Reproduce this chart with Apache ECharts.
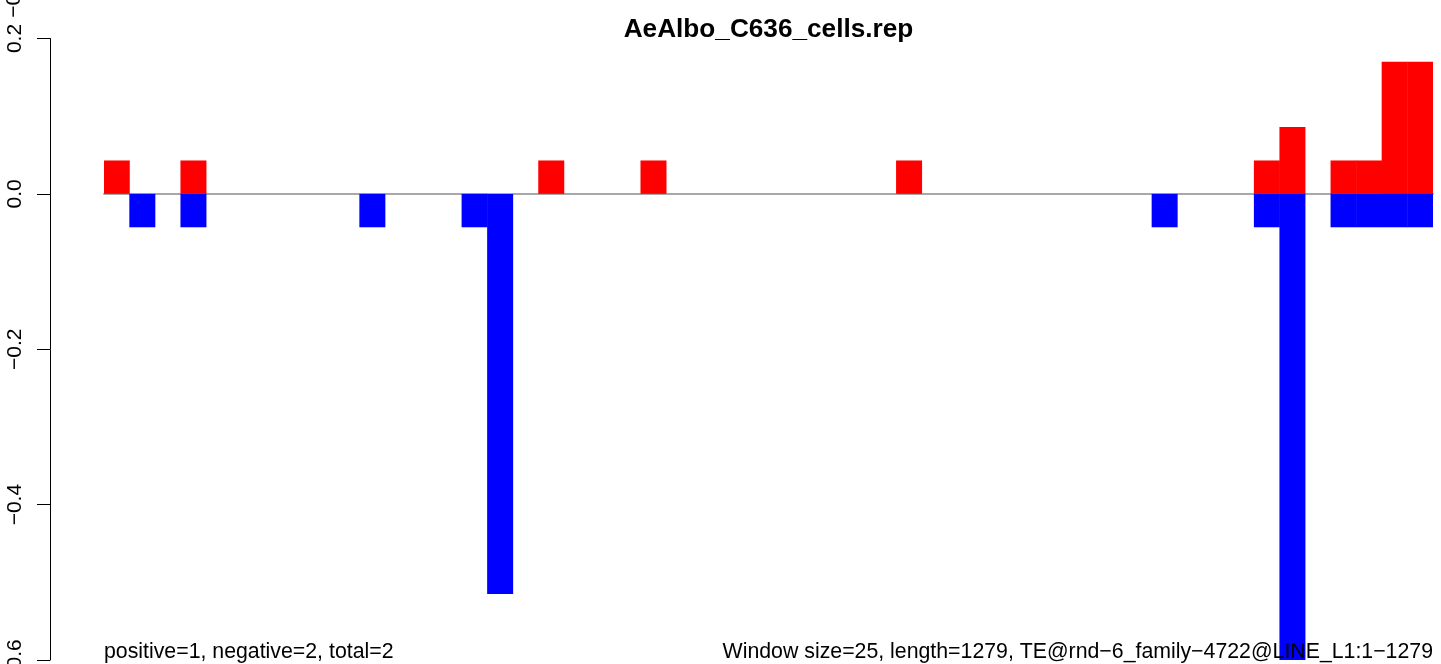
<!DOCTYPE html>
<html>
<head>
<meta charset="utf-8">
<script src="https://cdn.jsdelivr.net/npm/echarts@6/dist/echarts.min.js"></script>
<style>
html,body{margin:0;padding:0;background:#fff;}
#c{width:1441px;height:664px;}
</style>
</head>
<body>
<div id="c"></div>
<script>
// window index (window size 25, length 1279 -> 52 windows)
var windows = [];
for (var i = 1; i <= 52; i++) windows.push(String(i));

var positiveValues = [
  0.043, 0, 0, 0.043, 0, 0, 0, 0, 0, 0,
  0, 0, 0, 0, 0, 0, 0, 0.043, 0, 0,
  0, 0.043, 0, 0, 0, 0, 0, 0, 0, 0,
  0, 0.043, 0, 0, 0, 0, 0, 0, 0, 0,
  0, 0, 0, 0, 0, 0.043, 0.086, 0, 0.043, 0.043,
  0.17, 0.17
];
var negativeValues = [
  0, -0.043, 0, -0.043, 0, 0, 0, 0, 0, 0,
  -0.043, 0, 0, 0, -0.043, -0.515, 0, 0, 0, 0,
  0, 0, 0, 0, 0, 0, 0, 0, 0, 0,
  0, 0, 0, 0, 0, 0, 0, 0, 0, 0,
  0, -0.043, 0, 0, 0, -0.043, -0.6, 0, -0.043, -0.043,
  -0.043, -0.043
];
var yTicks = { min: -0.6, max: 0.2, interval: 0.2 };
var titleText = 'AeAlbo_C636_cells.rep';
var leftNote = 'positive=1, negative=2, total=2';
var rightNote = 'Window size=25, length=1279, TE@rnd\u22126_family\u22124722@LINE_L1:1\u22121279';

var FONT = '"Liberation Sans", Arial, Helvetica, sans-serif';
var chart = echarts.init(document.getElementById('c'), null, {renderer: 'canvas'});
chart.setOption({
  animation: false,
  backgroundColor: '#ffffff',
  grid: { left: 104, right: 8, top: 38.5, bottom: 4, containLabel: false, outerBoundsMode: 'none' },
  xAxis: {
    type: 'category',
    data: windows,
    boundaryGap: true,
    axisLine: { show: true, onZero: true, lineStyle: { color: '#a8a8a8', width: 2 } },
    axisTick: { show: false },
    axisLabel: { show: false },
    splitLine: { show: false }
  },
  yAxis: {
    type: 'value',
    min: yTicks.min,
    max: yTicks.max,
    interval: yTicks.interval,
    offset: 54,
    axisLine: { show: true, lineStyle: { color: '#000', width: 1 } },
    axisTick: { show: true, length: 13, lineStyle: { color: '#000', width: 1 } },
    splitLine: { show: false },
    axisLabel: {
      rotate: 90,
      margin: 24,
      color: '#000',
      fontFamily: FONT,
      fontSize: 21,
      formatter: function (v) {
        var r = Math.round(v * 10) / 10;
        return (r < 0 ? '\u2212' : '') + Math.abs(r).toFixed(1);
      }
    }
  },
  series: [
    {
      type: 'bar', name: 'positive', data: positiveValues,
      barWidth: 26, barGap: '-100%',
      itemStyle: { color: '#ff0000' }
    },
    {
      type: 'bar', name: 'negative', data: negativeValues,
      barWidth: 26, barGap: '-100%',
      itemStyle: { color: '#0000ff' }
    }
  ],
  graphic: [
    { type: 'text', x: 768.5, y: 29.5, z: 100,
      style: { text: titleText, font: 'bold 26.2px ' + FONT, fill: '#000', align: 'center', verticalAlign: 'middle' } },
    { type: 'text', x: 104, y: 652, z: 100,
      style: { text: leftNote, font: '21.3px ' + FONT, fill: '#000', align: 'left', verticalAlign: 'middle' } },
    { type: 'text', x: 1433, y: 652, z: 100,
      style: { text: rightNote, font: '21.3px ' + FONT, fill: '#000', align: 'right', verticalAlign: 'middle' } },
    { type: 'text', x: 14.5, y: -3, rotation: Math.PI / 2, z: 100,
      style: { text: '\u22120.6', font: '21px ' + FONT, fill: '#000', align: 'center', verticalAlign: 'middle' } }
  ]
});
</script>
</body>
</html>
